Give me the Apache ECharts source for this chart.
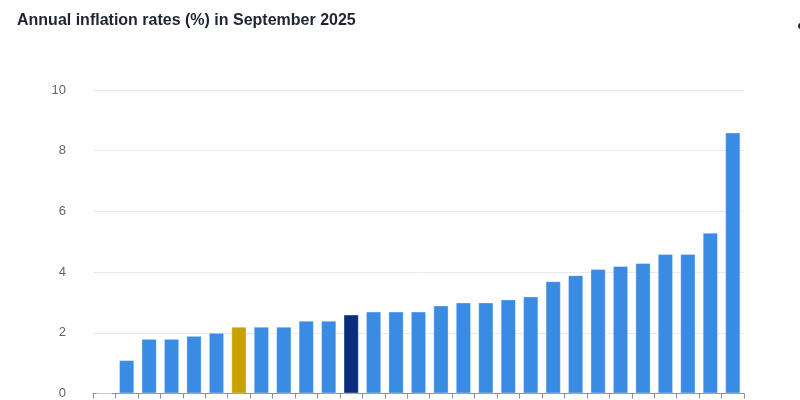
<!DOCTYPE html>
<html>
<head>
<meta charset="utf-8">
<script src="https://cdn.jsdelivr.net/npm/echarts@6/dist/echarts.min.js"></script>
<style>html,body{margin:0;padding:0;background:#fff}#c{width:800px;height:400px}</style>
</head>
<body>
<div id="c"></div>
<script>
const titleText = 'Annual inflation rates (%) in September 2025';
const categories = ['CY','FR','IE','IT','SE','DK','EA','LT','PT','FI','DE','EU','LU','MT','SI','ES','NL','GR','PL','BG','LV','HU','BE','CZ','AT','HR','SK','EE','RO'];
const values = [0.0,1.1,1.8,1.8,1.9,2.0,2.2,2.2,2.2,2.4,2.4,2.6,2.7,2.7,2.7,2.9,3.0,3.0,3.1,3.2,3.7,3.9,4.1,4.2,4.3,4.6,4.6,5.3,8.6];
const yTicks = [0,2,4,6,8,10];
const highlight = {EA:'#c9a100', EU:'#0b2c7a'};
const baseColor = '#3a8be3';

const chart = echarts.init(document.getElementById('c'), null, {renderer:'canvas'});
chart.setOption({
  animation:false,
  backgroundColor:'#fff',
  title:{text:titleText,left:12,top:8,textStyle:{fontFamily:'Liberation Sans, Arial, sans-serif',fontSize:16,fontWeight:'bold',color:'#1f2430'}},
  graphic:[{type:'circle',shape:{cx:801,cy:26,r:3},style:{fill:'#1f2430'}}],
  grid:{left:93,right:56,top:90,bottom:4,containLabel:false},
  xAxis:{type:'category',data:categories,
    axisLine:{lineStyle:{color:'#8a8f99',width:1}},
    axisTick:{show:true,interval:0,length:5,lineStyle:{color:'#8a8f99'}},
    axisLabel:{show:false,interval:0}},
  yAxis:{type:'value',min:yTicks[0],max:yTicks[yTicks.length-1],interval:2,
    axisLine:{show:false},axisTick:{show:false},
    splitLine:{lineStyle:{color:'#e8eaf2',width:1}},
    axisLabel:{color:'#666',fontSize:13,fontFamily:'Liberation Sans, Arial, sans-serif',margin:27}},
  series:[{type:'bar',barWidth:'68%',
    data:values.map((v,i)=>({value:v,itemStyle:{color:highlight[categories[i]]||baseColor}})),
    itemStyle:{borderColor:'rgba(255,255,255,0.35)',borderWidth:1}}]
});
</script>
</body>
</html>
